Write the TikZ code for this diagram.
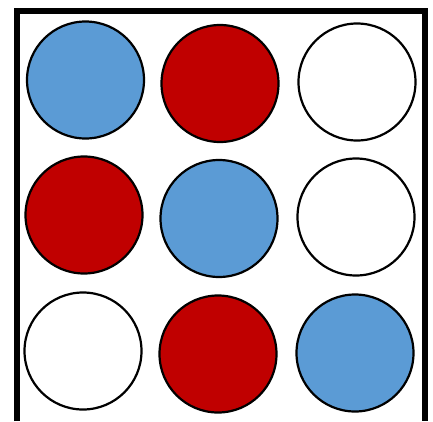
\documentclass[tikz,border=0pt]{standalone}
\definecolor{cblue}{HTML}{5B9BD5}
\definecolor{cred}{HTML}{C00000}
\begin{document}
\begin{tikzpicture}[x=1pt,y=-1pt,
  disc/.style={circle,draw=black,line width=2.2pt,minimum size=117pt,inner sep=0pt},
  frameline/.style={line width=6pt,line cap=butt,line join=miter}]
\useasboundingbox (0,0) rectangle (433,421);
\fill[white] (0,0) rectangle (433,421);
\draw[frameline] (17,421) -- (17,11) -- (425,11) -- (425,421);
\node[disc,fill=cblue] (a1) at (85.5,80) {};
\node[disc,fill=cred]  (a2) at (220,83.5) {};
\node[disc,fill=white] (a3) at (357,82) {};
\node[disc,fill=cred]  (b1) at (84,215) {};
\node[disc,fill=cblue] (b2) at (219,218.5) {};
\node[disc,fill=white] (b3) at (356,217) {};
\node[disc,fill=white] (c1) at (83,351) {};
\node[disc,fill=cred]  (c2) at (218,354) {};
\node[disc,fill=cblue] (c3) at (355,353) {};
\end{tikzpicture}
\end{document}
